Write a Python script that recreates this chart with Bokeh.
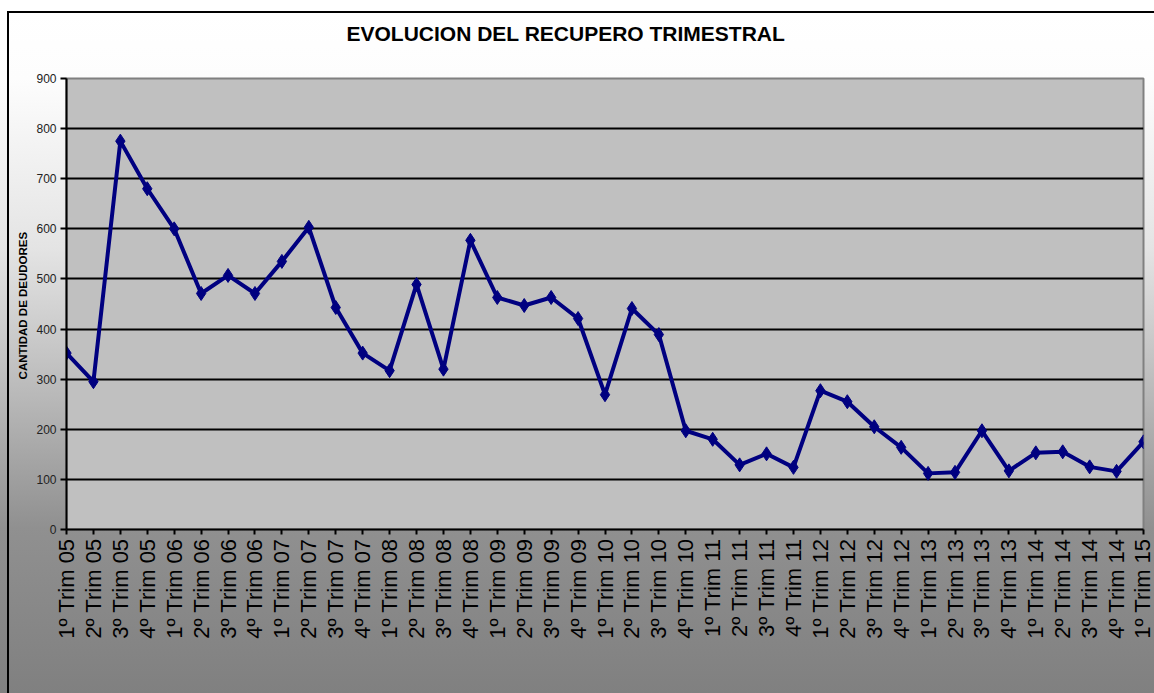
import math
from bokeh.plotting import figure
from bokeh.models import Range1d, FixedTicker, ColumnDataSource, Title
from bokeh.embed import file_html
from bokeh.resources import INLINE

title_text = "EVOLUCION DEL RECUPERO  TRIMESTRAL"
y_label = "CANTIDAD  DE DEUDORES"

categories = [
    "1º Trim 05", "2º Trim 05", "3º Trim 05", "4º Trim 05",
    "1º Trim 06", "2º Trim 06", "3º Trim 06", "4º Trim 06",
    "1º Trim 07", "2º Trim 07", "3º Trim 07", "4º Trim 07",
    "1º Trim 08", "2º Trim 08", "3º Trim 08", "4º Trim 08",
    "1º Trim 09", "2º Trim 09", "3º Trim 09", "4º Trim 09",
    "1º Trim 10", "2º Trim 10", "3º Trim 10", "4º Trim 10",
    "1º Trim 11", "2º Trim 11", "3º Trim 11", "4º Trim 11",
    "1º Trim 12", "2º Trim 12", "3º Trim 12", "4º Trim 12",
    "1º Trim 13", "2º Trim 13", "3º Trim 13", "4º Trim 13",
    "1º Trim 14", "2º Trim 14", "3º Trim 14", "4º Trim 14",
    "1º Trim 15",
]

values = [
    352, 295, 775, 680,
    600, 471, 507, 471,
    535, 603, 443, 352,
    317, 489, 320, 577,
    463, 447, 463, 421,
    269, 441, 389, 197,
    180, 129, 151, 124,
    277, 255, 205, 164,
    112, 114, 197, 117,
    153, 155, 125, 116,
    175,
]

y_ticks = [0, 100, 200, 300, 400, 500, 600, 700, 800, 900]
grid_ticks = [100, 200, 300, 400, 500, 600, 700, 800]

positions = list(range(len(categories)))
source = ColumnDataSource(data=dict(x=positions, y=values, cat=categories))

FONT = "Liberation Sans"

p = figure(
    width=1154, height=693,
    output_backend="svg", toolbar_location=None,
    x_range=Range1d(0, len(categories) - 1),
    y_range=Range1d(y_ticks[0], y_ticks[-1]),
    min_border_left=66, min_border_right=11,
    min_border_top=78, min_border_bottom=164,
    title=title_text,
)

p.background_fill_color = "#C0C0C0"
p.border_fill_color = None
p.outline_line_color = "#808080"
p.outline_line_width = 2
p.styles = {
    "background": (
        "linear-gradient(#000,#000) 7px 11px / 100% 2px no-repeat, "
        "linear-gradient(#000,#000) 7px 11px / 2px 100% no-repeat, "
        "linear-gradient(to bottom, #ffffff 0px, #ffffff 11px, #fdfdfd 78px, #e4e4e4 248px, "
        "#b8b8b8 398px, #909090 528px, #808080 693px)"
    ),
}

# spacer between frame and title, pushes the title upward
p.add_layout(Title(text=" ", text_font_size="24px", standoff=0), "above")

p.title.align = "left"
p.title.offset = 280
p.title.text_font = FONT
p.title.text_font_size = "21px"
p.title.text_font_style = "bold"
p.title.text_color = "#000000"

p.line("x", "y", source=source, line_color="#000080", line_width=4)
p.scatter("x", "y", source=source, marker="diamond", size=14,
          fill_color="#000080", line_color="#000080")

# X axis
p.xaxis.ticker = FixedTicker(ticks=positions)
p.xaxis.major_label_overrides = {i: c for i, c in enumerate(categories)}
p.xaxis.major_label_orientation = math.pi / 2
p.xaxis.major_label_text_font = FONT
p.xaxis.major_label_text_font_size = "22px"
p.xaxis.major_label_text_color = "#000000"
p.xaxis.major_label_standoff = 4
p.xaxis.major_tick_out = 5
p.xaxis.major_tick_in = 0
p.xaxis.minor_tick_line_color = None
p.xaxis.axis_line_color = "#000000"
p.xaxis.axis_line_width = 2
p.xaxis.major_tick_line_color = "#000000"
p.xaxis.major_tick_line_width = 2

# Y axis
p.yaxis.ticker = FixedTicker(ticks=y_ticks)
p.yaxis.major_label_text_font = FONT
p.yaxis.major_label_text_font_size = "12px"
p.yaxis.major_label_text_color = "#222222"
p.yaxis.major_label_standoff = 4
p.yaxis.major_tick_out = 6
p.yaxis.major_tick_in = 0
p.yaxis.minor_tick_line_color = None
p.yaxis.axis_line_color = "#000000"
p.yaxis.axis_line_width = 2
p.yaxis.major_tick_line_color = "#000000"
p.yaxis.major_tick_line_width = 2
p.yaxis.axis_label = y_label
p.yaxis.axis_label_text_font = FONT
p.yaxis.axis_label_text_font_size = "11.5px"
p.yaxis.axis_label_text_font_style = "bold"
p.yaxis.axis_label_text_color = "#000000"
p.yaxis.axis_label_standoff = 4

# Grid
p.xgrid.visible = False
p.ygrid.ticker = FixedTicker(ticks=grid_ticks)
p.ygrid.grid_line_color = "#000000"
p.ygrid.grid_line_width = 2

open("out.html", "w").write(file_html(p, INLINE))
